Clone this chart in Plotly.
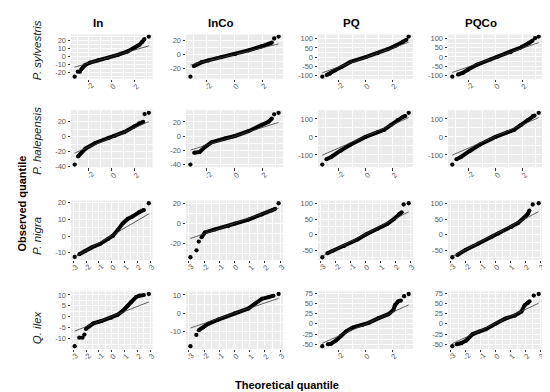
import numpy as np
import plotly.graph_objects as go

# ---------------- data ----------------
species = ["P. sylvestris", "P. halepensis", "P. nigra", "Q. ilex"]
treatments = ["In", "InCo", "PQ", "PQCo"]

# each panel: theoretical quantile (x) and observed quantile (y), sorted.
# *_tails = (number of isolated points at the low end, at the high end)
sylv_In_x = [-3.2, -2.93, -2.75, -2.63, -2.30, -1.87, -1.17, -0.32, 0.52, 1.37, 1.93, 2.35, 2.63, 2.83, 3.2]
sylv_In_y = [-25.6, -19.2, -19.2, -16, -10.8, -7.6, -4.8, -2.0, 2.0, 6.4, 10.4, 14.4, 18.4, 22.0, 25.2]
sylv_In_tails = (3, 1)
sylv_InCo_x = [-3.2, -2.96, -2.76, -2.4, -1.91, -0.94, 0.04, 1.0, 1.98, 2.47, 2.71, 2.88, 3.2]
sylv_InCo_y = [-32.6, -17, -14.7, -11.5, -8.7, -4.1, 0.5, 6.0, 12.0, 15.2, 17.5, 23.4, 26.2]
sylv_InCo_tails = (1, 2)
sylv_PQ_x = [-3.2, -2.88, -2.63, -2.25, -1.75, -1.12, 0.01, 0.89, 1.65, 2.27, 2.78, 3.03, 3.2]
sylv_PQ_y = [-107, -98, -90, -72, -52, -26, 0, 21, 43, 64, 83, 95, 112]
sylv_PQ_tails = (1, 1)
sylv_PQCo_x = [-3.2, -2.78, -2.4, -2.02, -1.39, -0.39, 0.11, 1.12, 1.87, 2.5, 2.75, 2.93, 3.2]
sylv_PQCo_y = [-108.6, -96.6, -86, -69, -43, -13.8, 0, 26, 52, 78, 90, 103, 112]
sylv_PQCo_tails = (1, 2)

hale_In_x = [-3.2, -2.92, -2.7, -2.28, -1.43, -0.31, 0.25, 1.1, 1.94, 2.36, 2.72, 2.84, 3.2]
hale_In_y = [-37.8, -27, -22.7, -16.3, -8.6, -2.1, 0.9, 6.4, 13.7, 18, 20.2, 30.5, 32.2]
hale_In_tails = (1, 2)
hale_InCo_x = [-3.2, -2.93, -2.52, -2.15, -1.67, -0.69, 0.04, 1.01, 1.98, 2.47, 2.71, 2.88, 3.2]
hale_InCo_y = [-39.6, -23, -21.8, -15, -8.4, -3.1, 0.4, 7.1, 16, 20.4, 24.9, 30.7, 32.9]
hale_InCo_tails = (1, 2)
hale_PQ_x = [-3.2, -2.9, -2.52, -1.89, -1.13, 0.0, 0.88, 1.39, 1.89, 2.39, 2.77, 2.95, 3.2]
hale_PQ_y = [-154, -124, -110, -78, -44, 0, 26.5, 40.7, 67, 94, 111.5, 117, 134.5]
hale_PQ_tails = (1, 1)
hale_PQCo_x = [-3.2, -2.9, -2.54, -1.91, -1.15, 0.0, 0.88, 1.39, 1.89, 2.39, 2.77, 2.9, 3.2]
hale_PQCo_y = [-154, -124, -110, -78, -42.5, 0, 26.5, 40.7, 67, 94, 117, 120, 134.5]
hale_PQCo_tails = (1, 1)

nigra_In_x = [-2.9, -2.54, -2.08, -1.57, -0.93, -0.29, 0.09, 0.47, 0.86, 1.24, 1.62, 2.14, 2.52, 2.9]
nigra_In_y = [-12.5, -10.9, -8.9, -6.8, -4.8, -1.8, 0.2, 3.6, 7.6, 10.3, 11.7, 14.3, 15.7, 19.7]
nigra_In_tails = (1, 1)
nigra_InCo_x = [-2.9, -2.5, -2.35, -2.17, -1.95, -1.29, -0.41, 0.03, 0.92, 1.8, 2.46, 2.68, 2.9]
nigra_InCo_y = [-34, -27, -18.2, -13.9, -8.9, -5.9, -2.6, 0, 4, 9.2, 13.2, 14.9, 20.5]
nigra_InCo_tails = (3, 1)
nigra_PQ_x = [-2.9, -2.56, -2.22, -1.44, -0.54, 0.02, 0.81, 1.48, 1.93, 2.27, 2.43, 2.56, 2.9]
nigra_PQ_y = [-73.4, -60.6, -53, -37, -16, 0, 19, 35, 51, 67, 72, 97, 101]
nigra_PQ_tails = (1, 2)
nigra_PQCo_x = [-2.9, -2.57, -2.02, -1.14, -0.25, 0.19, 1.07, 1.51, 1.95, 2.17, 2.28, 2.5, 2.9]
nigra_PQCo_y = [-73.4, -66, -50, -28.7, -7.4, 3.2, 24.5, 37, 56, 67, 77.7, 97, 101]
nigra_PQCo_tails = (1, 2)

ilex_In_x = [-2.9, -2.54, -2.29, -2.14, -2.03, -1.83, -1.44, -0.81, -0.04, 0.47, 0.86, 1.24, 1.5, 1.88, 2.14, 2.52, 2.9]
ilex_In_y = [-13.4, -9.5, -9.5, -8.1, -5.5, -4.5, -3.0, -1.9, -0.4, 1.0, 2.7, 5.0, 6.8, 8.9, 9.6, 9.9, 10.4]
ilex_In_tails = (4, 1)
ilex_InCo_x = [-2.9, -2.51, -2.35, -2.06, -1.73, -1.07, 0.03, 0.92, 1.36, 1.8, 2.24, 2.57, 2.9]
ilex_InCo_y = [-18.1, -11.9, -9.3, -7.9, -5.8, -3.5, 0, 2.6, 5.3, 7.9, 8.8, 9.6, 10.5]
ilex_InCo_tails = (2, 1)
ilex_PQ_x = [-3.2, -2.79, -2.55, -2.18, -1.82, -1.45, -0.97, -0.24, 0.24, 0.97, 1.7, 2.06, 2.18, 2.42, 2.62, 2.86, 3.2]
ilex_PQ_y = [-54.7, -50, -48.4, -40.6, -28.9, -18.8, -9.4, -3.1, 2.3, 14, 23.4, 33.6, 45.3, 54.7, 57, 67.2, 72.7]
ilex_PQ_tails = (1, 2)
ilex_PQCo_x = [-2.9, -2.61, -2.29, -1.96, -1.53, -1.09, -0.65, 0.0, 0.65, 1.31, 1.74, 1.96, 2.18, 2.29, 2.57, 2.9]
ilex_PQCo_y = [-54.7, -50, -46.9, -40.6, -25, -18.8, -13.3, 0, 12.5, 20.3, 29.7, 45.3, 51.6, 54.7, 68.8, 72.6]
ilex_PQCo_tails = (1, 2)

# reference (qq) lines: slope, intercept per panel (row-major)
qq_slope = [4.2, 4.84, 26.0, 25.5,
            6.64, 6.08, 32.6, 32.6,
            4.49, 5.26, 24.7, 25.0,
            2.29, 2.8, 14.6, 17.0]
qq_intercept = [0.0, 0.0, -2.0, -3.0,
                -1.0, 0.0, 3.0, 3.0,
                0.3, 0.2, 2.0, 1.5,
                0.15, 0.0, -0.7, 0.9]

# tick labels
xticks_wide = [-2, 0, 2]
xticks_narrow = [-3, -2, -1, 0, 1, 2, 3]
yticks = [
    [-20, -10, 0, 10, 20], [-20, 0, 20], [-100, -50, 0, 50, 100], [-100, -50, 0, 50, 100],
    [-40, -20, 0, 20], [-40, -20, 0, 20], [-100, 0, 100], [-100, 0, 100],
    [-10, 0, 10, 20], [-20, 0, 20], [-50, 0, 50, 100], [-50, 0, 50, 100],
    [-10, -5, 0, 5, 10], [-20, -10, 0, 10], [-50, -25, 0, 25, 50, 75], [-50, -25, 0, 25, 50, 75],
]
xticks = [
    xticks_wide, xticks_wide, xticks_wide, xticks_wide,
    xticks_wide, xticks_wide, xticks_wide, xticks_wide,
    xticks_narrow, xticks_narrow, xticks_narrow, xticks_narrow,
    xticks_narrow, xticks_narrow, xticks_wide, xticks_narrow,
]

panels = [
    (sylv_In_x, sylv_In_y, sylv_In_tails), (sylv_InCo_x, sylv_InCo_y, sylv_InCo_tails),
    (sylv_PQ_x, sylv_PQ_y, sylv_PQ_tails), (sylv_PQCo_x, sylv_PQCo_y, sylv_PQCo_tails),
    (hale_In_x, hale_In_y, hale_In_tails), (hale_InCo_x, hale_InCo_y, hale_InCo_tails),
    (hale_PQ_x, hale_PQ_y, hale_PQ_tails), (hale_PQCo_x, hale_PQCo_y, hale_PQCo_tails),
    (nigra_In_x, nigra_In_y, nigra_In_tails), (nigra_InCo_x, nigra_InCo_y, nigra_InCo_tails),
    (nigra_PQ_x, nigra_PQ_y, nigra_PQ_tails), (nigra_PQCo_x, nigra_PQCo_y, nigra_PQCo_tails),
    (ilex_In_x, ilex_In_y, ilex_In_tails), (ilex_InCo_x, ilex_InCo_y, ilex_InCo_tails),
    (ilex_PQ_x, ilex_PQ_y, ilex_PQ_tails), (ilex_PQCo_x, ilex_PQCo_y, ilex_PQCo_tails),
]

# ---------------- layout geometry (pixels) ----------------
W, H = 550, 392
COLS = [(63, 144.5), (178, 275), (310, 405), (440, 535)]
ROWS = [(24, 69), (101, 159), (193, 253.5), (285.5, 344)]
FONT = "Liberation Sans, Arial, sans-serif"
TICKCOLOR = "#5a5a5a"
TICKFONT = dict(family=FONT, size=7.5, color=TICKCOLOR)


def minor_vals(ticks, lo, hi):
    step = ticks[1] - ticks[0]
    vals = [t + step / 2 for t in ticks[:-1]]
    vals = [ticks[0] - step / 2] + vals + [ticks[-1] + step / 2]
    return [v for v in vals if lo <= v <= hi]


fig = go.Figure()
layout = {}
annotations = []
for k, (px, py, tails) in enumerate(panels):
    r, c = divmod(k, 4)
    idx = "" if k == 0 else str(k + 1)
    xa, ya = "x" + idx, "y" + idx
    xs, ys = np.array(px, float), np.array(py, float)
    n_lo, n_hi = tails
    body = slice(n_lo, len(xs) - n_hi)

    xmin, xmax = xs.min(), xs.max()
    line_x = np.array([xmin, xmax])
    line_y = qq_intercept[k] + qq_slope[k] * line_x

    # body of the points (dense run)
    fig.add_trace(go.Scatter(x=xs[body], y=ys[body], mode="lines+markers",
                             line=dict(color="black", width=4),
                             marker=dict(color="black", size=4),
                             xaxis=xa, yaxis=ya, showlegend=False, hoverinfo="skip"))
    # isolated tail points
    tx = np.concatenate([xs[:n_lo], xs[len(xs) - n_hi:]])
    ty = np.concatenate([ys[:n_lo], ys[len(ys) - n_hi:]])
    fig.add_trace(go.Scatter(x=tx, y=ty, mode="markers",
                             marker=dict(color="black", size=4.3),
                             xaxis=xa, yaxis=ya, showlegend=False, hoverinfo="skip"))
    # qq reference line
    fig.add_trace(go.Scatter(x=line_x, y=line_y, mode="lines",
                             line=dict(color="#3a3a3a", width=0.8),
                             xaxis=xa, yaxis=ya, showlegend=False, hoverinfo="skip"))

    ally = np.concatenate([ys, line_y])
    yw = ys.max() - ys.min()
    yr = [min(ys.min(), ally.min()) - 0.05 * yw, max(ys.max(), ally.max()) + 0.05 * yw]
    xw = xmax - xmin
    xr = [xmin - 0.05 * xw, xmax + 0.05 * xw]

    x0, x1 = COLS[c]
    y0, y1 = ROWS[r]
    common = dict(showgrid=True, gridcolor="white", gridwidth=1, zeroline=False,
                  showline=False, ticks="outside", ticklen=2.5, tickwidth=0.8,
                  tickcolor="#333333", tickfont=TICKFONT, fixedrange=True)
    layout["xaxis" + idx] = dict(
        domain=[x0 / W, x1 / W], range=xr, anchor=ya,
        tickmode="array", tickvals=xticks[k], showticklabels=False,
        minor=dict(tickmode="array", tickvals=minor_vals(xticks[k], *xr),
                   showgrid=True, gridcolor="white", gridwidth=0.5, ticks=""),
        **common)
    layout["yaxis" + idx] = dict(
        domain=[1 - y1 / H, 1 - y0 / H], range=yr, anchor=xa,
        tickmode="array", tickvals=yticks[k], ticktext=[str(t) for t in yticks[k]],
        minor=dict(tickmode="array", tickvals=minor_vals(yticks[k], *yr),
                   showgrid=True, gridcolor="white", gridwidth=0.5, ticks=""),
        **common)
    # rotated x tick labels, centred under their ticks (ggplot angle = 45)
    for t in xticks[k]:
        annotations.append(dict(text=str(t), x=t, xref=xa, y=1 - (y1 + 8) / H, yref="paper",
                                xshift=1.5, showarrow=False, textangle=-45,
                                xanchor="center", yanchor="middle",
                                font=TICKFONT))

title_x = [90, 213, 343.5, 472.5]
for t, xc in zip(treatments, title_x):
    annotations.append(dict(text="<b>" + t + "</b>", x=xc / W, y=1 - 12.7 / H,
                            xref="paper", yref="paper", showarrow=False,
                            xanchor="center", yanchor="middle",
                            font=dict(family=FONT, size=11.5, color="black")))
species_y = [40, 132, 229, 322]
for s, yc in zip(species, species_y):
    annotations.append(dict(text="<i>" + s + "</i>", x=29 / W, y=1 - yc / H,
                            xref="paper", yref="paper", showarrow=False, textangle=-90,
                            xanchor="center", yanchor="middle",
                            font=dict(family=FONT, size=11.5, color="#1a1a1a")))
annotations.append(dict(text="<b>Observed quantile</b>", x=13 / W, y=1 - 196 / H,
                        xref="paper", yref="paper", showarrow=False, textangle=-90,
                        xanchor="center", yanchor="middle",
                        font=dict(family=FONT, size=11, color="black")))
annotations.append(dict(text="<b>Theoretical quantile</b>", x=278.7 / W, y=1 - 381 / H,
                        xref="paper", yref="paper", showarrow=False,
                        xanchor="center", yanchor="middle",
                        font=dict(family=FONT, size=11, color="black")))

fig.update_layout(width=W, height=H, margin=dict(l=0, r=0, t=0, b=0),
                  paper_bgcolor="white", plot_bgcolor="#EBEBEB",
                  annotations=annotations, **layout)
fig.write_html("out.html")
